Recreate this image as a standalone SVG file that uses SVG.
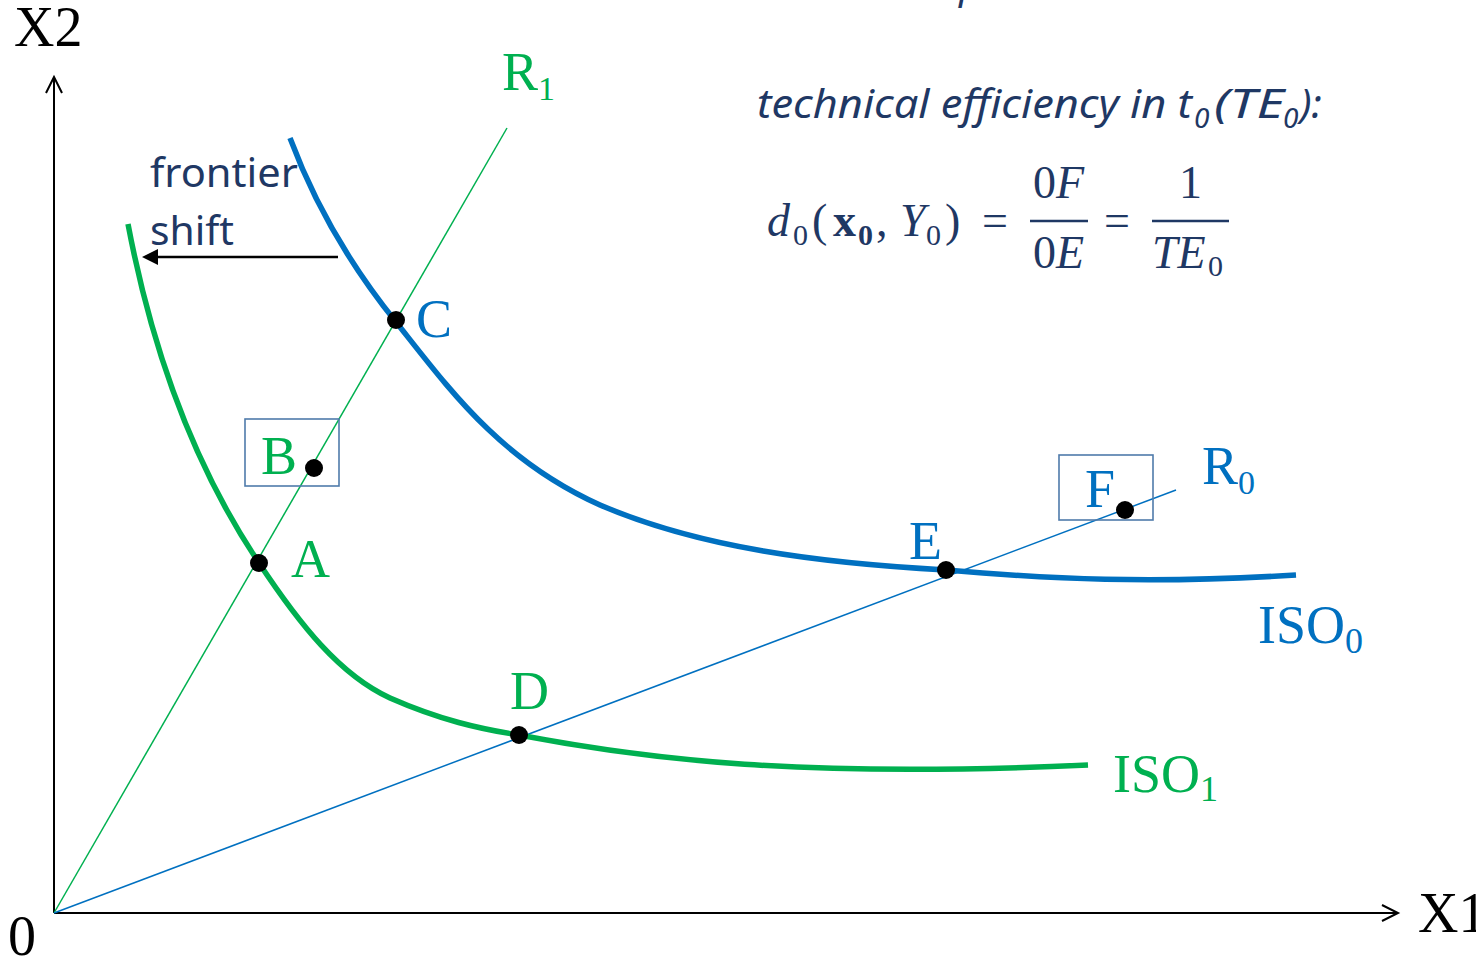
<svg xmlns="http://www.w3.org/2000/svg" width="1476" height="956" viewBox="0 0 1476 956">
<style>
.ser{font-family:"Liberation Serif","Times New Roman",serif}
.lbl{font-family:"Liberation Serif","Times New Roman",serif;font-size:54px}
.g{fill:#00b050}
.b{fill:#0070c0}
.navy{fill:#1f3864}
.sans{font-family:"Noto Sans","Open Sans",sans-serif}
.dot{fill:#000}
.box{fill:none;stroke:#4f7bab;stroke-width:1.6}
.axis{stroke:#000;stroke-width:2;fill:none}
</style>
<rect width="1476" height="956" fill="#fff"/>

<g id="axes">
<line class="axis" x1="54" y1="913" x2="54" y2="77"/>
<polyline class="axis" points="46,93 54,77 62,93"/>
<line class="axis" x1="54" y1="913" x2="1398" y2="913"/>
<polyline class="axis" points="1382,905 1398,913 1382,921"/>
<text class="ser" x="14" y="46" font-size="56" fill="#000">X2</text>
<text class="ser" x="1418" y="932" font-size="56" fill="#000">X1</text>
<text class="ser" x="8" y="955" font-size="56" fill="#000">0</text>
</g>

<g id="connectors">
<line id="ray-R1" x1="54" y1="913" x2="507" y2="128" stroke="#00b050" stroke-width="1.5"/>
<line id="ray-R0" x1="54" y1="913" x2="1176" y2="490" stroke="#0070c0" stroke-width="1.5"/>
<path id="iso1" d="M128,224 C150,340 190,460 259,563 C300,625 340,675 390,698 C440,720 480,729 519,735 C650,760 800,778 1088,765" fill="none" stroke="#00b050" stroke-width="5.5"/>
<path id="iso0" d="M290,138 C315,205 350,265 396,322 C450,390 500,460 600,505 C700,548 820,563 946,570 C1050,579 1150,584 1296,575" fill="none" stroke="#0070c0" stroke-width="5.5"/>
<g id="shift-arrow">
<line x1="338" y1="257" x2="156" y2="257" stroke="#000" stroke-width="2.5"/>
<polygon points="142,257 158,249 158,265" fill="#000"/>
</g>
</g>

<g id="label-R1"><text class="lbl g" x="502" y="90">R<tspan font-size="34" dy="10">1</tspan></text></g>
<g id="label-R0"><text class="lbl b" x="1202" y="484">R<tspan font-size="34" dy="10">0</tspan></text></g>
<g id="label-ISO0"><text class="lbl b" x="1258" y="643">ISO<tspan font-size="36" dy="10">0</tspan></text></g>
<g id="label-ISO1"><text class="lbl g" x="1113" y="792">ISO<tspan font-size="36" dy="9">1</tspan></text></g>

<g id="node-A"><circle class="dot" cx="259" cy="563" r="9"/><text class="lbl g" x="291" y="577">A</text></g>
<g id="node-B"><rect class="box" x="245" y="419" width="94" height="67"/><circle class="dot" cx="314" cy="468" r="9"/><text class="lbl g" x="261" y="474">B</text></g>
<g id="node-C"><circle class="dot" cx="396" cy="320" r="9"/><text class="lbl b" x="416" y="337">C</text></g>
<g id="node-D"><circle class="dot" cx="519" cy="735" r="9"/><text class="lbl g" x="510" y="709">D</text></g>
<g id="node-E"><circle class="dot" cx="946" cy="570" r="9"/><text class="lbl b" x="909" y="559">E</text></g>
<g id="node-F"><rect class="box" x="1059" y="455" width="94" height="65"/><circle class="dot" cx="1125" cy="510" r="9"/><text class="lbl b" x="1085" y="507">F</text></g>

<g id="frontier-shift-label">
<text class="sans navy" x="150" y="187" font-size="40" textLength="148" lengthAdjust="spacingAndGlyphs">frontier</text>
<text class="sans navy" x="150" y="245" font-size="40" textLength="84" lengthAdjust="spacingAndGlyphs">shift</text>
</g>

<g id="top-fragment"><text class="sans navy" x="959" y="-2" font-size="40" font-style="italic">p</text></g>

<g id="te-title">
<text class="sans navy" font-style="italic" font-size="40" y="118"><tspan x="757" textLength="435" lengthAdjust="spacingAndGlyphs">technical efficiency in t</tspan><tspan x="1194" y="128" font-size="28">0</tspan><tspan x="1214" y="118" textLength="70" lengthAdjust="spacingAndGlyphs">(TE</tspan><tspan x="1283" y="128" font-size="28">0</tspan><tspan x="1300" y="118">):</tspan></text>
</g>

<g id="formula" class="ser navy">
<text font-size="46" y="236"><tspan x="767" font-style="italic">d</tspan><tspan x="793" y="245" font-size="30">0</tspan><tspan x="812" y="236">(</tspan><tspan x="833" font-weight="bold">x</tspan><tspan x="858" y="245" font-size="30" font-weight="bold">0</tspan><tspan x="876" y="236">,</tspan><tspan x="900" font-style="italic">Y</tspan><tspan x="926" y="245" font-size="30">0</tspan><tspan x="945" y="236">)</tspan><tspan x="982">=</tspan></text>
<text font-size="46" y="198"><tspan x="1033">0</tspan><tspan font-style="italic">F</tspan></text>
<line x1="1030" y1="221" x2="1088" y2="221" stroke="#1f3864" stroke-width="2.5"/>
<text font-size="46" y="268"><tspan x="1033">0</tspan><tspan font-style="italic">E</tspan></text>
<text font-size="46" x="1104" y="236">=</text>
<text font-size="46" x="1179" y="198">1</text>
<line x1="1152" y1="221" x2="1229" y2="221" stroke="#1f3864" stroke-width="2.5"/>
<text font-size="46" y="268"><tspan x="1152" font-style="italic">TE</tspan><tspan x="1208" y="276" font-size="30">0</tspan></text>
</g>
</svg>
